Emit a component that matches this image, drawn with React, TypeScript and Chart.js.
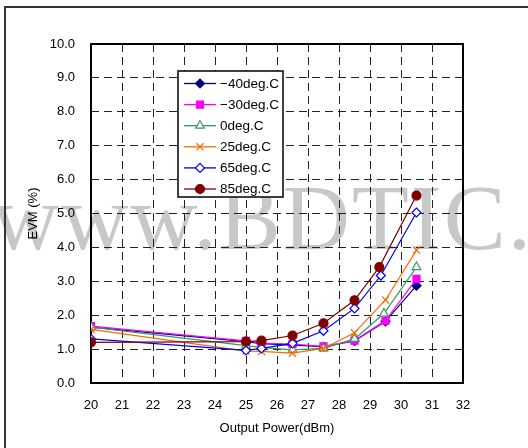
import React, { useEffect, useRef } from 'react';
import { Chart, registerables } from 'chart.js';
import { drawPoint } from 'chart.js/helpers';

Chart.register(...registerables);

// ---- data ----
const seriesNames = ['−40deg.C', '−30deg.C', '0deg.C', '25deg.C', '65deg.C', '85deg.C'];

const xM40 = [20, 25, 25.5, 26.5, 27.5, 28.5, 29.5, 30.5];
const yM40 = [1.65, 1.22, 1.16, 1.12, 1.07, 1.24, 1.82, 2.87];

const xM30 = [20, 25, 25.5, 26.5, 27.5, 28.5, 29.5, 30.5];
const yM30 = [1.68, 1.24, 1.18, 1.15, 1.08, 1.25, 1.84, 3.07];

const x0 = [20, 25, 25.5, 26.5, 27.5, 28.5, 29.45, 30.5];
const y0 = [1.65, 1.1, 1.05, 0.98, 1.02, 1.3, 2.05, 3.42];

const x25 = [20, 25, 25.5, 26.5, 27.5, 28.5, 29.5, 30.5];
const y25 = [1.58, 0.94, 0.93, 0.88, 1.02, 1.48, 2.45, 3.92];

const x65 = [20, 25, 25.5, 26.5, 27.5, 28.5, 29.35, 30.5];
const y65 = [1.3, 0.96, 1.02, 1.17, 1.54, 2.2, 3.17, 5.03];

const x85 = [20, 25, 25.5, 26.5, 27.5, 28.5, 29.3, 30.5];
const y85 = [1.2, 1.22, 1.25, 1.4, 1.76, 2.44, 3.42, 5.53];

const xTickMin = 20;
const xTickMax = 32;
const yTickMin = 0;
const yTickMax = 10;

const xTitle = 'Output Power(dBm)';
const yTitle = 'EVM (%)';
const watermark = 'www.BDTIC.com';

// ---- styles ----
const lineColors = ['#000080', '#ff00ff', '#339966', '#ff6600', '#0000ff', '#800000'];
const pointFills = ['#000080', '#ff00ff', '#ffffff', '#ff6600', '#ffffff', '#800000'];
const pointStyles = ['rectRot', 'rect', 'triangle', 'crossRot', 'rectRot', 'circle'];
const pointRadii = [4.5, 5, 5, 5, 4.5, 4.5];

const FONT = 'Liberation Sans, Arial, sans-serif';

function toPts(xs: number[], ys: number[]) {
  return xs.map((x, i) => ({ x, y: ys[i] }));
}

const allX = [xM40, xM30, x0, x25, x65, x85];
const allY = [yM40, yM30, y0, y25, y65, y85];

const frameBorderPlugin = {
  id: 'frameBorder',
  beforeDatasetsDraw(chart: any) {
    const { ctx, chartArea } = chart;
    ctx.save();
    ctx.strokeStyle = '#000';
    ctx.lineWidth = 2;
    ctx.strokeRect(chartArea.left, chartArea.top, chartArea.right - chartArea.left, chartArea.bottom - chartArea.top);
    ctx.restore();
  },
};

const boxLegendPlugin = {
  id: 'boxLegend',
  afterDraw(chart: any) {
    const { ctx, chartArea } = chart;
    const left = chartArea.left + 87;
    const top = chartArea.top + 27;
    const w = 105;
    const h = 126;
    ctx.save();
    ctx.fillStyle = '#fff';
    ctx.fillRect(left, top, w, h);
    ctx.strokeStyle = '#000';
    ctx.lineWidth = 1.5;
    ctx.strokeRect(left, top, w, h);
    chart.data.datasets.forEach((ds: any, i: number) => {
      const cy = top + 12.5 + i * 21.1;
      ctx.strokeStyle = ds.borderColor;
      ctx.lineWidth = 1.3;
      ctx.beginPath();
      ctx.moveTo(left + 6, cy);
      ctx.lineTo(left + 38, cy);
      ctx.stroke();
      ctx.fillStyle = ds.pointBackgroundColor;
      ctx.strokeStyle = ds.pointBorderColor;
      ctx.lineWidth = 1.2;
      drawPoint(ctx, { pointStyle: ds.pointStyle, rotation: 0, radius: ds.pointRadius, borderWidth: 1.2 } as any, left + 22, cy);
      ctx.fillStyle = '#000';
      ctx.font = `13.5px ${FONT}`;
      ctx.textBaseline = 'middle';
      ctx.textAlign = 'left';
      ctx.fillText(ds.label, left + 42, cy + 0.5);
    });
    ctx.restore();
  },
};

export default function App() {
  const ref = useRef<HTMLCanvasElement>(null);

  useEffect(() => {
    if (!ref.current) return;
    const datasets = seriesNames.map((name, i) => ({
      label: name,
      data: toPts(allX[i], allY[i]),
      borderColor: lineColors[i],
      backgroundColor: lineColors[i],
      borderWidth: 1.2,
      pointStyle: pointStyles[i],
      pointRadius: pointRadii[i],
      pointBackgroundColor: pointFills[i],
      pointBorderColor: lineColors[i],
      pointBorderWidth: 1.2,
      tension: 0,
      fill: false,
      order: seriesNames.length - i,
    }));
    const chart = new Chart(ref.current, {
      type: 'line',
      data: { datasets },
      options: {
        animation: false,
        responsive: false,
        maintainAspectRatio: false,
        devicePixelRatio: 1,
        layout: { padding: { left: 0, right: 65, top: 44, bottom: 0 } },
        plugins: { legend: { display: false }, tooltip: { enabled: false } },
        scales: {
          x: {
            type: 'linear',
            min: xTickMin,
            max: xTickMax,
            ticks: {
              stepSize: 1,
              padding: 15,
              color: '#000',
              font: { family: FONT, size: 13 },
              callback: (v: any) => String(v),
            },
            grid: { color: '#222', lineWidth: 1, drawTicks: false },
            border: { display: false, dash: [8, 5] },
            title: {
              display: true,
              text: xTitle,
              color: '#000',
              font: { family: FONT, size: 13 },
              padding: { top: 0, bottom: 12 },
            },
            afterFit: (s: any) => {
              s.height = 65;
            },
          },
          y: {
            type: 'linear',
            min: yTickMin,
            max: yTickMax,
            ticks: {
              stepSize: 1,
              padding: 16,
              color: '#000',
              font: { family: FONT, size: 13 },
              callback: (v: any) => Number(v).toFixed(1),
            },
            grid: { color: '#222', lineWidth: 1, drawTicks: false },
            border: { display: false, dash: [8, 5] },
            title: {
              display: true,
              text: yTitle,
              color: '#000',
              font: { family: FONT, size: 13 },
              padding: { top: 26, bottom: 0 },
            },
            afterFit: (s: any) => {
              s.width = 91;
            },
          },
        },
      },
      plugins: [frameBorderPlugin, boxLegendPlugin],
    } as any);
    return () => chart.destroy();
  }, []);

  return (
    <div style={{ position: 'fixed', left: 0, top: 0, width: 528, height: 448, overflow: 'hidden', background: '#fff' }}>
      <div
        style={{
          position: 'absolute',
          left: -8,
          top: 171,
          fontFamily: 'Liberation Serif, Times New Roman, serif',
          fontSize: 93,
          lineHeight: 1,
          letterSpacing: 2,
          color: '#c8c8c8',
          whiteSpace: 'nowrap',
        }}
      >
        {watermark}
      </div>
      <div
        style={{
          position: 'absolute',
          left: 4,
          top: 6,
          width: 600,
          height: 600,
          border: '2px solid #333',
        }}
      />
      <canvas ref={ref} width={528} height={448} style={{ position: 'absolute', left: 0, top: 0, width: 528, height: 448 }} />
    </div>
  );
}
